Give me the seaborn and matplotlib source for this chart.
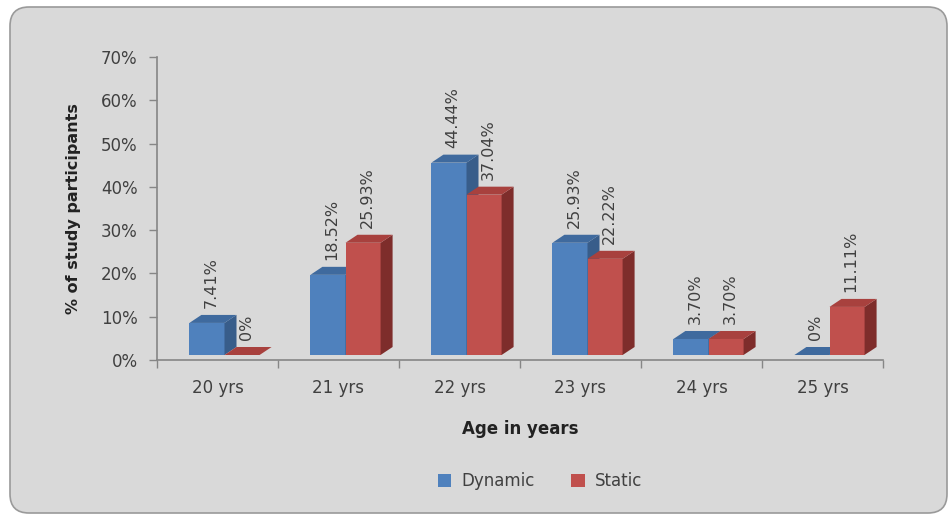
import matplotlib
matplotlib.use("Agg")
import matplotlib.pyplot as plt
import matplotlib.transforms as mtransforms
from matplotlib.patches import FancyBboxPatch, Polygon, Patch
import seaborn as sns
import pandas as pd
import numpy as np

ages = ["20 yrs", "21 yrs", "22 yrs", "23 yrs", "24 yrs", "25 yrs"]
dynamic = [7.41, 18.52, 44.44, 25.93, 3.70, 0.0]
static = [0.0, 25.93, 37.04, 22.22, 3.70, 11.11]
series = ["Dynamic", "Static"]
yticks = [0, 10, 20, 30, 40, 50, 60, 70]

front_colors = {"Dynamic": "#4F81BD", "Static": "#C0504D"}
top_colors = {"Dynamic": "#3F6A9E", "Static": "#A8413E"}
side_colors = {"Dynamic": "#385D8A", "Static": "#7E2D2B"}
text_color = "#404040"
axis_color = "#868686"

df = pd.DataFrame({
    "age": ages * 2,
    "value": dynamic + static,
    "series": ["Dynamic"] * len(ages) + ["Static"] * len(ages),
})

sns.set_style("white")
plt.rcParams["font.family"] = ["DejaVu Sans"]

W, H = 949, 515
fig = plt.figure(figsize=(W / 100, H / 100), dpi=100)
fig.patch.set_facecolor("white")

bg = FancyBboxPatch((10 / W, 2 / H), 937 / W, 506 / H,
                    boxstyle="round,pad=0,rounding_size=0.02",
                    transform=fig.transFigure, facecolor="#D9D9D9",
                    edgecolor="#9A9A9A", linewidth=1.2, zorder=-10,
                    mutation_aspect=W / H)
fig.patches.append(bg)

ax_l, ax_r, ax_b, ax_t = 157, 883, 360, 57
ax = fig.add_axes([ax_l / W, 1 - ax_b / H, (ax_r - ax_l) / W, (ax_b - ax_t) / H])
ax.set_facecolor("none")
ax.set_zorder(1)

sns.barplot(data=df, x="age", y="value", hue="series", order=ages,
            hue_order=series, palette=front_colors, width=0.58,
            saturation=1, legend=False, ax=ax, linewidth=0)

ax.set_xlim(-0.5, len(ages) - 0.5)
ax.set_ylim(0, 70)

off = mtransforms.ScaledTranslation(7 / 100, 5 / 100, fig.dpi_scale_trans)
trans = ax.transData + off
label_off = mtransforms.ScaledTranslation(11 / 100, 20 / 100, fig.dpi_scale_trans)

dx = 12 / 121.0
dy = 8 / 4.33

bars = list(ax.patches)
n = len(ages)
for i, p in enumerate(bars):
    s = series[i // n]
    base_z = 2 + (i // n)
    x, w = p.get_x(), p.get_width()
    y, h = p.get_y(), p.get_height()
    p.set_transform(trans)
    p.set_clip_on(False)
    p.set_zorder(base_z)
    side = Polygon([(x + w, y), (x + w + dx, y + dy), (x + w + dx, y + h + dy), (x + w, y + h)],
                   closed=True, facecolor=side_colors[s], edgecolor="none",
                   transform=trans, zorder=base_z + 0.1, clip_on=False)
    top = Polygon([(x, y + h), (x + dx, y + h + dy), (x + w + dx, y + h + dy), (x + w, y + h)],
                  closed=True, facecolor=top_colors[s], edgecolor="none",
                  transform=trans, zorder=base_z + 0.1, clip_on=False)
    ax.add_patch(side)
    ax.add_patch(top)
    label = "0%" if h == 0 else f"{h:.2f}%"
    ax.text(x + w / 2, y + h, label, rotation=90, ha="center", va="bottom",
            fontsize=11.5, color=text_color, transform=ax.transData + label_off,
            zorder=5)

ax.set_yticks(yticks)
ax.set_yticklabels([f"{t}%" for t in yticks], fontsize=12, color=text_color)
ax.set_xticks(range(n))
ax.set_xticklabels(ages, fontsize=12, color=text_color)
ax.set_xticks(np.arange(-0.5, n, 1.0), minor=True)
ax.tick_params(axis="x", which="major", length=0, pad=14)
ax.tick_params(axis="x", which="minor", length=6, color=axis_color, width=1, direction="out", bottom=True)
ax.tick_params(axis="y", length=6, color=axis_color, width=1, direction="out", pad=8, left=True)

for sp in ["top", "right"]:
    ax.spines[sp].set_visible(False)
for sp in ["left", "bottom"]:
    ax.spines[sp].set_color(axis_color)
    ax.spines[sp].set_linewidth(1.2)

ax.set_xlabel("Age in years", fontsize=12, fontweight="bold", color="#222222", labelpad=16)
ax.set_ylabel("% of study participants", fontsize=11.5, fontweight="bold", color="#222222", labelpad=14)

handles = [Patch(facecolor=front_colors[s], edgecolor="none", label=s) for s in series]
fig.legend(handles=handles, loc="center", bbox_to_anchor=(540 / W, 1 - 481 / H),
           ncol=2, frameon=False, fontsize=12, handlelength=0.8, handleheight=0.8,
           handletextpad=0.6, columnspacing=2.2, labelcolor=text_color)

fig.savefig("out.png", dpi=100, facecolor="white")
